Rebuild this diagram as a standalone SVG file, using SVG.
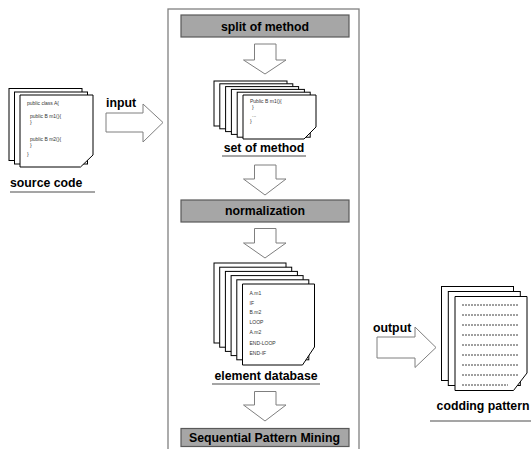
<svg xmlns="http://www.w3.org/2000/svg" width="531" height="449" viewBox="0 0 531 449">
  <style>
    .page { fill: #ffffff; stroke: #000000; stroke-width: 1; }
    .box { fill: #a6a6a6; stroke: #595959; stroke-width: 1.2; }
    .arrow { fill: #ffffff; stroke: #7f7f7f; stroke-width: 1; }
    .frame { fill: none; stroke: #808080; stroke-width: 1.3; }
    .rule { stroke: #4d4d4d; stroke-width: 1.2; }
    .label { font-family: "Liberation Sans", Arial, sans-serif; font-weight: bold; font-size: 12.3px; fill: #000000; }
    .code { font-family: "Liberation Sans", Arial, sans-serif; font-size: 5px; fill: #333333; }
    .dash { stroke: #404040; stroke-width: 1; stroke-dasharray: 2 1; }
  </style>

  <!-- processing frame -->
  <rect class="frame" x="168" y="9" width="191" height="470"/>

  <!-- source code document stack -->
  <g id="source-code">
    <rect class="page" x="9" y="88.5" width="73" height="72"/>
    <rect class="page" x="14.5" y="92" width="73" height="72"/>
    <path class="page" d="M20,95 H93 V155 L80.5,167 H20 Z"/>
    <text class="code" x="27" y="105">public class A{</text>
    <text class="code" x="30" y="118">public B m1(){</text>
    <text class="code" x="30" y="124">}</text>
    <text class="code" x="30" y="141">public B m2(){</text>
    <text class="code" x="30" y="147">}</text>
    <text class="code" x="27" y="156">}</text>
    <text class="label" x="10" y="186.5">source code</text>
    <line class="rule" x1="10" y1="192" x2="95" y2="192"/>
  </g>

  <!-- split of method -->
  <g id="split-of-method">
    <rect class="box" x="181" y="15" width="168" height="22"/>
    <text class="label" x="265" y="30.5" text-anchor="middle">split of method</text>
  </g>

  <!-- set of method document stack -->
  <g id="set-of-method">
    <rect class="page" x="214" y="81" width="73" height="45"/>
    <rect class="page" x="219.8" y="83.8" width="73" height="45"/>
    <rect class="page" x="225.6" y="86.6" width="73" height="45"/>
    <rect class="page" x="231.4" y="89.4" width="73" height="45"/>
    <rect class="page" x="237.2" y="92.2" width="73" height="45"/>
    <path class="page" d="M243,95 H316 V127 L304,139 H243 Z"/>
    <text class="code" x="250" y="103">Public B m1(){</text>
    <text class="code" x="252" y="109">}</text>
    <text class="code" x="252" y="117">...</text>
    <text class="code" x="250" y="123">}</text>
    <text class="label" x="264" y="152" text-anchor="middle">set of method</text>
    <line class="rule" x1="222" y1="156" x2="306" y2="156"/>
  </g>

  <!-- normalization -->
  <g id="normalization">
    <rect class="box" x="181" y="200" width="168" height="22"/>
    <text class="label" x="265" y="215" text-anchor="middle">normalization</text>
  </g>

  <!-- element database document stack -->
  <g id="element-database">
    <rect class="page" x="214" y="263" width="72" height="80"/>
    <rect class="page" x="219.7" y="267.2" width="72" height="80"/>
    <rect class="page" x="225.4" y="271.4" width="72" height="80"/>
    <rect class="page" x="231.1" y="275.6" width="72" height="80"/>
    <rect class="page" x="236.8" y="279.8" width="72" height="80"/>
    <path class="page" d="M242.5,284 H314.5 V347 L302.5,365 H242.5 Z"/>
    <text class="code" x="249.5" y="295">A.m1</text>
    <text class="code" x="249.5" y="304.5">IF</text>
    <text class="code" x="249.5" y="314">B.m2</text>
    <text class="code" x="249.5" y="324">LOOP</text>
    <text class="code" x="249.5" y="334">A.m2</text>
    <text class="code" x="249.5" y="345">END-LOOP</text>
    <text class="code" x="249.5" y="355">END-IF</text>
    <text class="label" x="266" y="380" text-anchor="middle">element database</text>
    <line class="rule" x1="212" y1="384" x2="320" y2="384"/>
  </g>

  <!-- Sequential Pattern Mining -->
  <g id="sequential-pattern-mining">
    <rect class="box" x="181" y="428.5" width="168" height="18"/>
    <text class="label" x="264.5" y="442" text-anchor="middle">Sequential Pattern Mining</text>
  </g>

  <!-- codding pattern document stack -->
  <g id="codding-pattern">
    <rect class="page" x="441.5" y="286.5" width="72" height="94"/>
    <rect class="page" x="448.3" y="291.5" width="72" height="94"/>
    <path class="page" d="M455,296.5 H527 V373 L513.5,390.5 H455 Z"/>
    <line class="dash" x1="462" y1="305" x2="518" y2="305"/>
    <line class="dash" x1="462" y1="315" x2="518" y2="315"/>
    <line class="dash" x1="462" y1="325" x2="518" y2="325"/>
    <line class="dash" x1="462" y1="335" x2="518" y2="335"/>
    <line class="dash" x1="462" y1="345" x2="518" y2="345"/>
    <line class="dash" x1="462" y1="355" x2="518" y2="355"/>
    <line class="dash" x1="462" y1="365" x2="518" y2="365"/>
    <line class="dash" x1="462" y1="375" x2="518" y2="375"/>
    <line class="dash" x1="462" y1="385" x2="508" y2="385"/>
    <text class="label" x="483" y="410" text-anchor="middle">codding pattern</text>
    <line class="rule" x1="430" y1="421" x2="531" y2="421"/>
  </g>

  <!-- block arrows between the stages -->
  <g id="connectors">
    <path class="arrow" d="M106,113 H143 V104 L163,122.5 L143,142 V132 H106 Z"/>
    <text class="label" x="106" y="107">input</text>
    <path class="arrow" d="M254.5,44 H276 V60 H286 L265,74 L243.5,60 H254.5 Z"/>
    <path class="arrow" d="M254.5,165 H276 V179 H286 L265,195 L243.5,179 H254.5 Z"/>
    <path class="arrow" d="M254.5,228.5 H276 V243 H286 L265,258 L243.5,243 H254.5 Z"/>
    <path class="arrow" d="M254.5,391.5 H276 V405 H286 L265,421 L243.5,405 H254.5 Z"/>
    <path class="arrow" d="M377,337 H415 V327 L436,347.5 L415,367.5 V358 H377 Z"/>
    <text class="label" x="373" y="332">output</text>
  </g>
</svg>
